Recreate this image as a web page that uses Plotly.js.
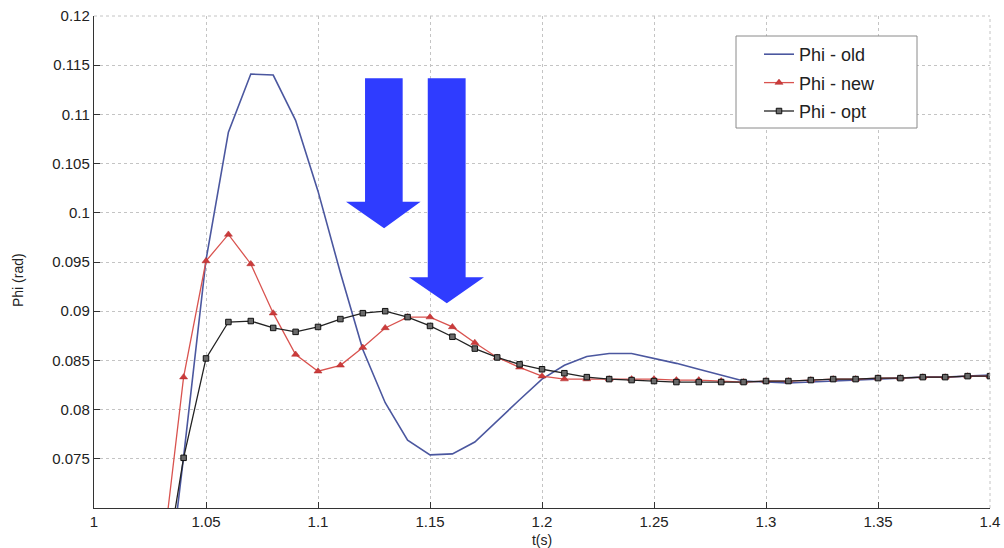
<!DOCTYPE html>
<html>
<head>
<meta charset="utf-8">
<script src="https://cdn.plot.ly/plotly-3.0.1.min.js"></script>
<style>html,body{margin:0;padding:0;background:#fff;}#chart{width:1004px;height:548px;}</style>
</head>
<body>
<div id="chart"></div>
<script>
var t = [1.03,1.04,1.05,1.06,1.07,1.08,1.09,1.10,1.11,1.12,1.13,1.14,1.15,1.16,1.17,1.18,1.19,1.20,1.21,1.22,1.23,1.24,1.25,1.26,1.27,1.28,1.29,1.30,1.31,1.32,1.33,1.34,1.35,1.36,1.37,1.38,1.39,1.40];

var phiOld = [0.0560,0.0752,0.0952,0.1082,0.1141,0.1140,0.1094,0.1022,0.0939,0.0861,0.0807,0.0769,0.0754,0.0755,0.0767,0.0789,0.0810,0.0831,0.0845,0.0854,0.0857,0.0857,0.0852,0.0847,0.0841,0.0835,0.0829,0.0828,0.0827,0.0828,0.0829,0.0830,0.0831,0.0832,0.0833,0.0833,0.0834,0.0835];

var phiNew = [0.0640,0.0833,0.0951,0.0978,0.0948,0.0898,0.0856,0.0839,0.0845,0.0863,0.0883,0.0894,0.0894,0.0884,0.0868,0.0853,0.0843,0.0834,0.0831,0.0831,0.0831,0.0831,0.0831,0.0830,0.0830,0.0829,0.0828,0.0829,0.0829,0.0830,0.0831,0.0831,0.0832,0.0832,0.0833,0.0833,0.0834,0.0834];

var phiOpt = [0.0612,0.0751,0.0852,0.0889,0.0890,0.0883,0.0879,0.0884,0.0892,0.0898,0.0900,0.0894,0.0885,0.0874,0.0862,0.0853,0.0846,0.0841,0.0837,0.0833,0.0831,0.0830,0.0829,0.0828,0.0828,0.0828,0.0828,0.0829,0.0829,0.0830,0.0831,0.0831,0.0832,0.0832,0.0833,0.0833,0.0834,0.0834];

var seriesNames = ["Phi - old", "Phi - new", "Phi - opt"];
var xTitle = "t(s)";
var yTitle = "Phi (rad)";

var xTickVals = [1,1.05,1.1,1.15,1.2,1.25,1.3,1.35,1.4];
var xTickText = ["1","1.05","1.1","1.15","1.2","1.25","1.3","1.35","1.4"];
var yTickVals = [0.075,0.08,0.085,0.09,0.095,0.1,0.105,0.11,0.115,0.12];
var yTickText = ["0.075","0.08","0.085","0.09","0.095","0.1","0.105","0.11","0.115","0.12"];

// arrow annotations (data coordinates)
var arrow1 = {sx0:1.1210, sx1:1.1378, top:0.11367, base:0.10113, hx0:1.1125, hx1:1.1458, tipx:1.1295, tipy:0.09842};
var arrow2 = {sx0:1.1490, sx1:1.1659, top:0.11367, base:0.09344, hx0:1.1406, hx1:1.1741, tipx:1.1575, tipy:0.09080};

function arrowPath(a){
  return "M"+a.sx0+","+a.top+" L"+a.sx1+","+a.top+" L"+a.sx1+","+a.base+" L"+a.hx1+","+a.base+
         " L"+a.tipx+","+a.tipy+" L"+a.hx0+","+a.base+" L"+a.sx0+","+a.base+" Z";
}

var traces = [
  {x:t, y:phiOld, name:seriesNames[0], legendgroup:"g1", type:"scatter", mode:"lines",
   line:{color:"#4b579f", width:1.6}},
  {x:t, y:phiNew, name:seriesNames[1], legendgroup:"g2", type:"scatter", mode:"lines+markers",
   line:{color:"#d9534f", width:1.3},
   marker:{symbol:"triangle-up", size:7, color:"#cc3b3b", line:{color:"#b02a2a", width:0.5}}},
  {x:t, y:phiOpt, name:seriesNames[2], legendgroup:"g3", type:"scatter", mode:"lines+markers",
   line:{color:"#222222", width:1.3},
   marker:{symbol:"square", size:5.5, color:"#6a6a6a", line:{color:"#111111", width:1}}}
];

var fam = "Liberation Sans, Arial, sans-serif";
var axisFont = {family:fam, size:15, color:"#222"};

var W = 896, H = 492;
function px(x){ return (x-94)/W; }
function py(y){ return 1-(y-16)/H; }

var layout = {
  width:1004, height:548,
  margin:{l:94, r:14, t:16, b:40},
  paper_bgcolor:"#ffffff", plot_bgcolor:"#ffffff",
  showlegend:true,
  legend:{x:px(759), y:py(36), xanchor:"left", yanchor:"top",
          bgcolor:"rgba(0,0,0,0)", borderwidth:0,
          font:{family:fam, size:18, color:"#222"},
          tracegroupgap:2, traceorder:"grouped"},
  xaxis:{range:[1,1.4], tickvals:xTickVals, ticktext:xTickText,
         ticks:"inside", ticklen:6, tickcolor:"#333",
         showline:true, linecolor:"#333", linewidth:1.2, mirror:false,
         showgrid:true, gridcolor:"#c4c4c4", griddash:"dot", gridwidth:1,
         zeroline:false, tickfont:axisFont,
         title:{text:xTitle, font:{family:fam, size:14, color:"#222"}}},
  yaxis:{range:[0.07,0.12], tickvals:yTickVals, ticktext:yTickText,
         ticks:"inside", ticklen:6, tickcolor:"#333",
         showline:true, linecolor:"#333", linewidth:1.2, mirror:false,
         showgrid:true, gridcolor:"#c4c4c4", griddash:"dot", gridwidth:1,
         zeroline:false, tickfont:axisFont},
  annotations:[
    {text:yTitle, xref:"paper", yref:"paper", x:px(18), y:py(280), textangle:-90,
     showarrow:false, xanchor:"center", yanchor:"middle", font:{family:fam, size:14, color:"#222"}}
  ],
  shapes:[
    {type:"path", xref:"x", yref:"y", path:arrowPath(arrow1), fillcolor:"#2f3cff", line:{width:0}, layer:"above"},
    {type:"path", xref:"x", yref:"y", path:arrowPath(arrow2), fillcolor:"#2f3cff", line:{width:0}, layer:"above"},
    {type:"line", xref:"paper", yref:"paper", x0:0, x1:1, y0:1, y1:1, line:{color:"#c4c4c4", width:1, dash:"dot"}},
    {type:"line", xref:"paper", yref:"paper", x0:1, x1:1, y0:0, y1:1, line:{color:"#c4c4c4", width:1, dash:"dot"}},
    {type:"rect", xref:"paper", yref:"paper", x0:px(736), x1:px(917), y0:py(128), y1:py(36),
     fillcolor:"#ffffff", line:{color:"#8a8a8a", width:1}, layer:"above"}
  ]
};

Plotly.newPlot("chart", traces, layout, {displayModeBar:false, staticPlot:true});
</script>
</body>
</html>
